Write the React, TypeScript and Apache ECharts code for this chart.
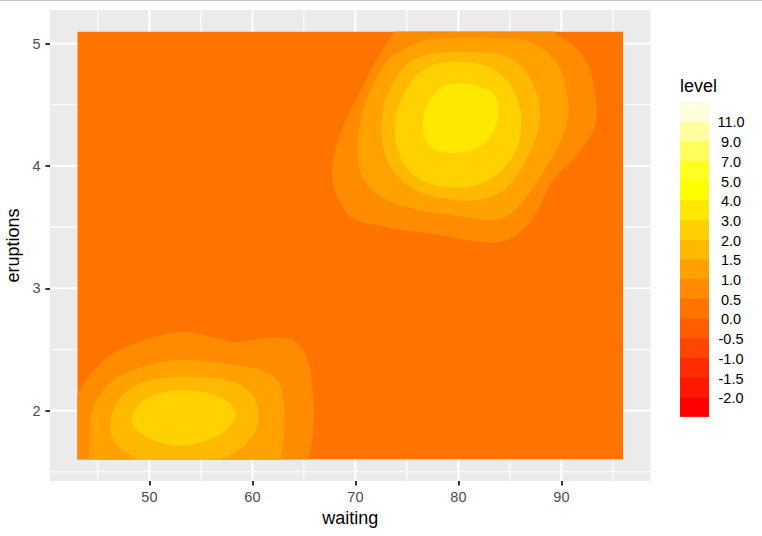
import React, { useEffect, useRef } from "react";
import * as echarts from "echarts";

const FONT = "'Liberation Sans', Arial, Helvetica, sans-serif";

// axes
const xTicks = [50, 60, 70, 80, 90];
const xMinor = [45, 55, 65, 75, 85, 95];
const yTicks = [2, 3, 4, 5];
const yMinor = [1.5, 2.5, 3.5, 4.5];
const xRange = [40.35, 98.65];
const yRange = [1.425, 5.275];
const waitingRange = [43, 96];
const eruptionsRange = [1.6, 5.1];

// legend (top to bottom)
const legendLabels = ["11.0", "9.0", "7.0", "5.0", "4.0", "3.0", "2.0", "1.5", "1.0", "0.5", "0.0", "-0.5", "-1.0", "-1.5", "-2.0"];
const legendColors = ["#FFFFDF", "#FFFF9F", "#FFFF60", "#FFFF20", "#FFFF00", "#FFE800", "#FFD100", "#FFB900", "#FFA200", "#FF8B00", "#FF7400", "#FF5D00", "#FF4600", "#FF2E00", "#FF1700", "#FF0000"];

// contour band outlines [waiting, eruptions]
const baseBand = [[43, 1.6], [96, 1.6], [96, 5.1], [43, 5.1]];
const topRight1 = [[74.7, 5.28], [73.8, 5.1], [72.07, 4.877], [70.44, 4.605], [68.83, 4.333], [67.85, 4.06], [67.8, 3.87], [68.5, 3.706], [69.8, 3.57], [73.0, 3.5], [77.9, 3.44], [82.1, 3.38], [84.7, 3.393], [86.0, 3.461], [86.96, 3.543], [87.93, 3.679], [88.9, 3.842], [89.87, 3.951], [91.16, 4.06], [92.46, 4.196], [93.27, 4.33], [93.43, 4.469], [93.1, 4.687], [92.46, 4.85], [91.16, 4.986], [89.3, 5.1], [88.5, 5.28], [81.5, 5.45]];
const topRight2 = [[79.0, 5.045], [76.6, 5.025], [74.6, 4.95], [73.03, 4.85], [71.41, 4.605], [70.44, 4.333], [70.28, 4.06], [70.77, 3.897], [72.22, 3.761], [74.97, 3.665], [78.86, 3.605], [82.1, 3.565], [84.2, 3.57], [85.66, 3.652], [86.96, 3.788], [88.25, 3.951], [89.22, 4.087], [90.19, 4.251], [90.68, 4.441], [90.52, 4.605], [89.87, 4.796], [88.57, 4.932], [86.63, 5.025], [84.0, 5.045]];
const topRight3 = [[80.8, 4.93], [77.24, 4.915], [75.3, 4.85], [73.68, 4.687], [72.71, 4.469], [72.55, 4.251], [73.03, 4.06], [74.33, 3.897], [76.27, 3.788], [78.86, 3.733], [81.77, 3.722], [83.9, 3.775], [85.4, 3.89], [86.63, 4.06], [87.6, 4.251], [87.93, 4.441], [87.44, 4.632], [86.31, 4.795], [84.37, 4.904]];
const topRight4 = [[80.15, 4.85], [82.75, 4.815], [84.69, 4.7], [85.82, 4.523], [86.1, 4.333], [85.66, 4.142], [84.37, 3.978], [82.43, 3.865], [80.16, 3.825], [77.24, 3.855], [75.3, 3.951], [74.17, 4.115], [73.84, 4.333], [74.49, 4.55], [75.95, 4.741], [77.89, 4.836]];
const topRight5 = [[80.5, 4.675], [82.42, 4.64], [83.55, 4.578], [83.87, 4.414], [83.3, 4.265], [82.1, 4.16], [80.16, 4.11], [77.89, 4.128], [76.75, 4.224], [76.59, 4.387], [77.24, 4.55], [78.86, 4.659]];
const bottomLeft1 = [[41.8, 1.95], [43.0, 2.14], [44.23, 2.29], [46.17, 2.45], [48.12, 2.535], [50.38, 2.6], [53.2, 2.645], [56.21, 2.6], [58.4, 2.56], [60.5, 2.585], [62.8, 2.595], [64.5, 2.54], [65.5, 2.38], [65.9, 2.12], [65.95, 1.9], [65.7, 1.7], [65.2, 1.55], [64.9, 1.42], [54, 1.3], [41.8, 1.42]];
const bottomLeft2 = [[44.6, 1.45], [44.2, 1.7], [44.25, 1.92], [44.88, 2.085], [46.5, 2.249], [49.41, 2.36], [52.65, 2.415], [55.88, 2.4], [59.12, 2.36], [61.06, 2.325], [62.5, 2.24], [63.05, 2.06], [63.1, 1.86], [62.85, 1.65], [62.6, 1.45], [54, 1.35]];
const bottomLeft3 = [[46.2, 1.895], [46.82, 2.059], [48.44, 2.195], [51.03, 2.263], [54.27, 2.275], [57.5, 2.249], [59.6, 2.168], [60.5, 2.031], [60.45, 1.868], [59.44, 1.732], [57.6, 1.63], [55, 1.575], [50, 1.58], [47.7, 1.66], [46.5, 1.76]];
const bottomLeft4 = [[48.28, 1.936], [49.09, 2.059], [51.03, 2.14], [53.3, 2.162], [55.88, 2.14], [57.82, 2.059], [58.31, 1.95], [57.5, 1.841], [55.24, 1.746], [52.65, 1.718], [50.38, 1.759], [48.76, 1.841]];

// [outline, index into legendColors]
const bands: [number[][], number][] = [
  [baseBand, 10],
  [topRight1, 9],
  [topRight2, 8],
  [topRight3, 7],
  [topRight4, 6],
  [topRight5, 5],
  [bottomLeft1, 9],
  [bottomLeft2, 8],
  [bottomLeft3, 7],
  [bottomLeft4, 6],
];

type GridDef = { axis: "x" | "y"; v: number; major: boolean };
const gridDefs: GridDef[] = [
  ...xMinor.map((v) => ({ axis: "x" as const, v, major: false })),
  ...yMinor.map((v) => ({ axis: "y" as const, v, major: false })),
  ...xTicks.map((v) => ({ axis: "x" as const, v, major: true })),
  ...yTicks.map((v) => ({ axis: "y" as const, v, major: true })),
];

export default function App() {
  const ref = useRef<HTMLDivElement>(null);
  useEffect(() => {
    if (!ref.current) return;
    const chart = echarts.init(ref.current, undefined, { renderer: "svg" });
    const keyX = 680, keyW = 29, keyTop = 101.7, keyH = 19.7;
    const graphic: any[] = [
      { type: "line", shape: { x1: 0, y1: 0.5, x2: 762, y2: 0.5 }, style: { stroke: "#C4C4C4", lineWidth: 1 } },
      ...legendColors.map((c, i) => ({
        type: "rect",
        shape: { x: keyX, y: keyTop + i * keyH, width: keyW, height: keyH + (i < legendColors.length - 1 ? 0.6 : 0) },
        style: { fill: c },
      })),
      ...legendLabels.map((l, i) => ({
        type: "text",
        x: 731,
        y: keyTop + (i + 1) * keyH + 1,
        style: { text: l, fill: "#000000", font: `14.5px ${FONT}`, align: "center", verticalAlign: "middle" },
      })),
      {
        type: "text",
        x: 680,
        y: 85.5,
        style: { text: "level", fill: "#000000", font: `18px ${FONT}`, align: "left", verticalAlign: "middle" },
      },
    ];
    chart.setOption({
      animation: false,
      backgroundColor: "#FFFFFF",
      grid: { left: 50, right: 111.5, top: 10, bottom: 55, show: true, backgroundColor: "#EBEBEB", borderWidth: 0, containLabel: false, outerBoundsMode: "none" },
      xAxis: {
        type: "value",
        min: xRange[0],
        max: xRange[1],
        axisLine: { show: false },
        axisTick: { show: true, length: 4.6, lineStyle: { color: "#333333", width: 2 }, customValues: xTicks },
        axisLabel: { customValues: xTicks, color: "#4D4D4D", fontSize: 14.5, fontFamily: FONT, margin: 8 },
        splitLine: { show: false },
        name: "waiting",
        nameLocation: "middle",
        nameGap: 27,
        nameTextStyle: { color: "#000000", fontSize: 18, fontFamily: FONT },
      },
      yAxis: {
        type: "value",
        min: yRange[0],
        max: yRange[1],
        axisLine: { show: false },
        axisTick: { show: true, length: 4.6, lineStyle: { color: "#333333", width: 2 }, customValues: yTicks },
        axisLabel: { customValues: yTicks, color: "#4D4D4D", fontSize: 14.5, fontFamily: FONT, margin: 9.5 },
        splitLine: { show: false },
        name: "eruptions",
        nameLocation: "middle",
        nameGap: 22,
        nameTextStyle: { color: "#000000", fontSize: 18, fontFamily: FONT },
      },
      series: [
        {
          type: "custom",
          z: 1,
          clip: false,
          silent: true,
          data: gridDefs.map((_, i) => [i]),
          renderItem: (params: any, api: any) => {
            const g = gridDefs[params.dataIndex];
            const p1 = g.axis === "x" ? api.coord([g.v, yRange[0]]) : api.coord([xRange[0], g.v]);
            const p2 = g.axis === "x" ? api.coord([g.v, yRange[1]]) : api.coord([xRange[1], g.v]);
            return {
              type: "line",
              shape: { x1: p1[0], y1: p1[1], x2: p2[0], y2: p2[1] },
              style: { stroke: "#FFFFFF", lineWidth: g.major ? 2.1 : 1.1 },
            };
          },
        },
        {
          type: "custom",
          z: 2,
          clip: false,
          silent: true,
          data: bands.map((_, i) => [i]),
          renderItem: (params: any, api: any) => {
            const [pts, ci] = bands[params.dataIndex];
            const tl = api.coord([waitingRange[0], eruptionsRange[1]]);
            const br = api.coord([waitingRange[1], eruptionsRange[0]]);
            return {
              type: "polygon",
              shape: { points: pts.map((p) => api.coord(p)), smooth: params.dataIndex === 0 ? 0 : 0.35 },
              style: { fill: legendColors[ci], stroke: null },
              clipPath: { type: "rect", shape: { x: tl[0], y: tl[1], width: br[0] - tl[0], height: br[1] - tl[1] } },
            };
          },
        },
      ],
      graphic,
    });
    return () => chart.dispose();
  }, []);
  return <div ref={ref} style={{ position: "absolute", left: 0, top: 0, width: 762, height: 536 }} />;
}
